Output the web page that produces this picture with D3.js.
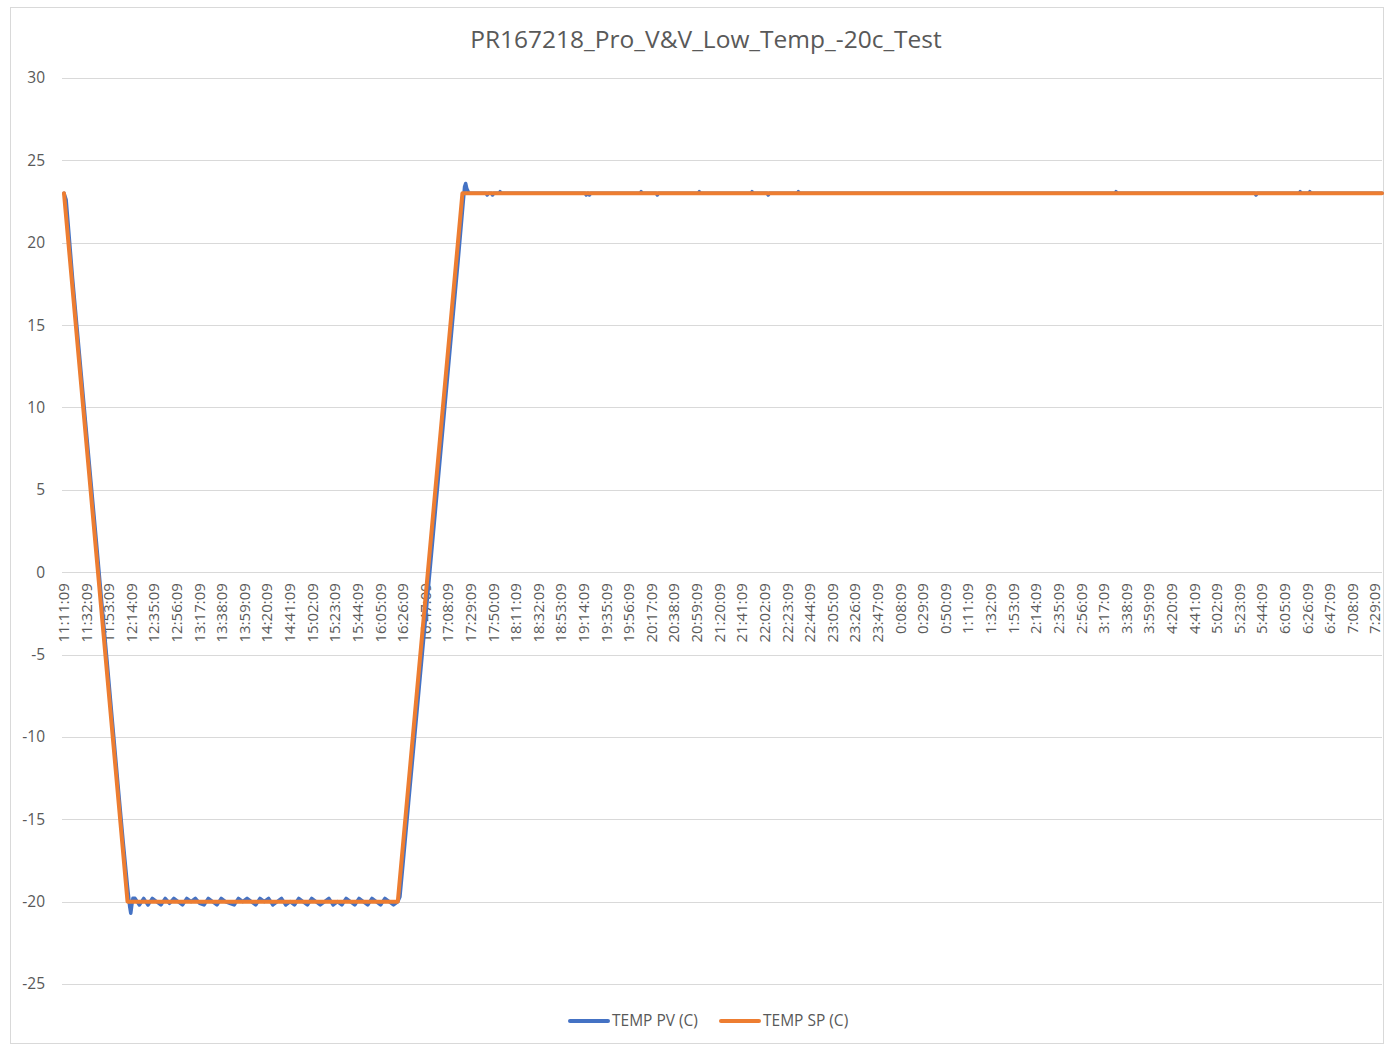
<!DOCTYPE html>
<meta charset="utf-8">
<style>
  body { margin: 0; background: #fff; font-family: "Open Sans", sans-serif; }
  .grid line { stroke: #d9d9d9; stroke-width: 1; }
  .axis text { fill: #595959; }
  .line { fill: none; stroke-linejoin: round; stroke-linecap: round; }
</style>
<body>
<svg width="1385" height="1046"></svg>
<script src="https://d3js.org/d3.v7.min.js"></script>
<script>
  // tick labels, one every 21 minutes from 11:11:09
  var tickLabels = ["11:11:09","11:32:09","11:53:09","12:14:09","12:35:09","12:56:09","13:17:09","13:38:09",
    "13:59:09","14:20:09","14:41:09","15:02:09","15:23:09","15:44:09","16:05:09","16:26:09","16:47:09",
    "17:08:09","17:29:09","17:50:09","18:11:09","18:32:09","18:53:09","19:14:09","19:35:09","19:56:09",
    "20:17:09","20:38:09","20:59:09","21:20:09","21:41:09","22:02:09","22:23:09","22:44:09","23:05:09",
    "23:26:09","23:47:09","0:08:09","0:29:09","0:50:09","1:11:09","1:32:09","1:53:09","2:14:09","2:35:09",
    "2:56:09","3:17:09","3:38:09","3:59:09","4:20:09","4:41:09","5:02:09","5:23:09","5:44:09","6:05:09",
    "6:26:09","6:47:09","7:08:09","7:29:09"];
  var tickStep = 21; // minutes between labels
  var yTicks = [30, 25, 20, 15, 10, 5, 0, -5, -10, -15, -20, -25];

  // setpoint (minutes after 11:11:09, deg C)
  var spTime = [0, 59, 310, 370, 1224];
  var spTemp = [23, -20, -20, 23, 23];

  // process value (minutes after 11:11:09, deg C)
  var pvTime = [0, 2, 4, 8, 12, 16, 20, 25, 30, 35, 40, 45, 50, 55, 59, 61, 62, 63, 64,
    66, 70, 74, 78, 82, 86, 90, 94, 98, 102, 106, 110, 114, 118, 122, 126, 130, 134, 138, 142,
    146, 150, 154, 158, 162, 166, 170, 174, 178, 182, 186, 190, 194, 198, 202, 206, 210, 214,
    218, 222, 226, 230, 234, 238, 242, 246, 250, 254, 258, 262, 266, 270, 274, 278, 282, 286,
    290, 294, 298, 302, 306, 310,
    312, 315, 320, 330, 340, 350, 360, 366, 370, 372, 373, 374, 376, 378,
    392, 393, 394, 397, 398, 399, 404, 405, 406, 484, 485, 486, 487, 488, 489,
    535, 536, 537, 550, 551, 552, 589, 590, 591, 638, 639, 640, 653, 654, 655, 681, 682, 683,
    976, 977, 978, 1106, 1107, 1108, 1147, 1148, 1149, 1156, 1157, 1158, 1224];
  var pvTemp = [23.0, 22.6, 21.0, 17.8, 14.9, 12.0, 9.1, 5.5, 1.9, -1.8, -5.4, -9.1, -12.8, -16.4, -19.1, -20.3, -20.7, -20.2, -19.8,
    -19.8, -20.2, -19.8, -20.2, -19.8, -20.0, -20.2, -19.8, -20.1, -19.8, -20.0, -20.2, -19.8, -20.0, -19.8, -20.1, -20.2, -19.8, -20.0, -20.2,
    -19.8, -20.0, -20.1, -20.2, -19.8, -20.0, -19.8, -20.0, -20.2, -19.8, -20.0, -19.8, -20.2, -20.0, -19.8, -20.2, -20.0, -20.2,
    -19.8, -20.0, -20.2, -19.8, -20.0, -20.2, -20.0, -19.8, -20.2, -20.0, -20.2, -19.8, -20.0, -20.2, -19.8, -20.0, -20.2, -19.8,
    -20.0, -20.2, -19.8, -20.0, -20.2, -20.0,
    -19.7, -17.6, -14.0, -6.9, 0.2, 7.4, 14.6, 18.9, 21.9, 23.4, 23.6, 23.3, 23.0, 23.0,
    23.0, 22.9, 23.0, 23.0, 22.9, 23.0, 23.0, 23.1, 23.0, 23.0, 22.9, 23.0, 23.0, 22.9, 23.0,
    23.0, 23.1, 23.0, 23.0, 22.9, 23.0, 23.0, 23.1, 23.0, 23.0, 23.1, 23.0, 23.0, 22.9, 23.0, 23.0, 23.1, 23.0,
    23.0, 23.1, 23.0, 23.0, 22.9, 23.0, 23.0, 23.1, 23.0, 23.0, 23.1, 23.0, 23.0];

  var svg = d3.select("svg");

  // chart border
  svg.append("rect")
    .attr("x", 10.5).attr("y", 7.5)
    .attr("width", 1373).attr("height", 1036)
    .attr("fill", "#fff").attr("stroke", "#d9d9d9");

  var x = d3.scaleLinear().domain([0, 1224]).range([64, 1382]);
  var y = d3.scaleLinear().domain([-25, 30]).range([984, 78]);

  /* gridlines */
  svg.append("g").attr("class", "grid")
    .selectAll("line").data(yTicks).enter().append("line")
      .attr("x1", 62).attr("x2", 1382)
      .attr("y1", function(d) { return Math.round(y(d)) + 0.5; })
      .attr("y2", function(d) { return Math.round(y(d)) + 0.5; });

  /* y axis labels */
  svg.append("g").attr("class", "axis")
    .selectAll("text").data(yTicks).enter().append("text")
      .attr("x", 45).attr("y", function(d) { return y(d); })
      .attr("dy", "0.35em")
      .attr("text-anchor", "end")
      .style("font-size", "15.5px")
      .text(function(d) { return d; });

  /* x axis labels (rotated), sitting under the 0 line */
  svg.append("g").attr("class", "axis")
    .selectAll("text").data(tickLabels).enter().append("text")
      .attr("transform", function(d, i) { return "translate(" + x(i * tickStep) + "," + (y(0) + 11) + ") rotate(-90)"; })
      .attr("dy", "0.33em")
      .attr("text-anchor", "end")
      .style("font-size", "15px")
      .text(function(d) { return d; });

  /* lines */
  var line = d3.line()
    .x(function(d) { return x(d[0]); })
    .y(function(d) { return y(d[1]); });

  var pv = pvTime.map(function(t, i) { return [t, pvTemp[i]]; });
  var sp = spTime.map(function(t, i) { return [t, spTemp[i]]; });

  svg.append("path").attr("class", "line")
    .attr("d", line(pv))
    .attr("stroke", "#4472c4").attr("stroke-width", 3.5);

  svg.append("path").attr("class", "line")
    .attr("d", line(sp))
    .attr("stroke", "#ed7d31").attr("stroke-width", 4);

  /* title */
  svg.append("text")
    .attr("x", 706).attr("y", 48)
    .attr("text-anchor", "middle")
    .attr("fill", "#595959")
    .style("font-size", "24.5px")
    .text("PR167218_Pro_V&V_Low_Temp_-20c_Test");

  /* legend */
  var legend = [
    { name: "TEMP PV (C)", color: "#4472c4", x: 570 },
    { name: "TEMP SP (C)", color: "#ed7d31", x: 721 }
  ];
  var lg = svg.append("g").selectAll("g").data(legend).enter().append("g");
  lg.append("line")
    .attr("x1", function(d) { return d.x; }).attr("x2", function(d) { return d.x + 38; })
    .attr("y1", 1021).attr("y2", 1021)
    .attr("stroke", function(d) { return d.color; })
    .attr("stroke-width", 4).attr("stroke-linecap", "round");
  lg.append("text")
    .attr("x", function(d) { return d.x + 42; }).attr("y", 1021)
    .attr("dy", "0.35em")
    .attr("fill", "#595959")
    .style("font-size", "15.5px")
    .text(function(d) { return d.name; });
</script>
</body>
